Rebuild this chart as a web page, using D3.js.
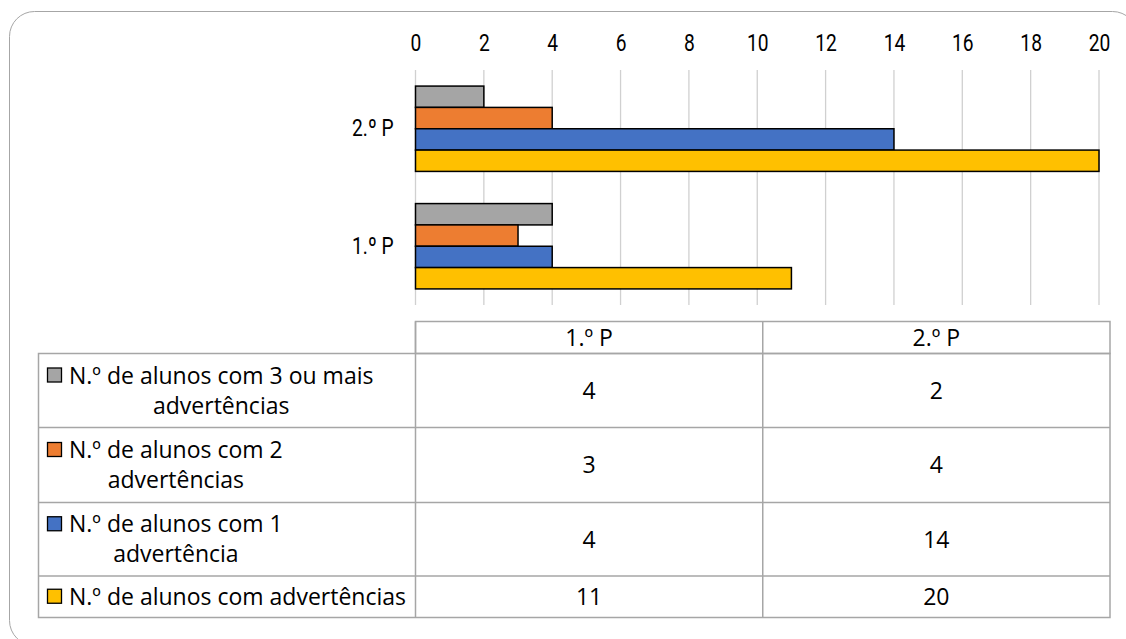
<!DOCTYPE html>
<html><head><meta charset="utf-8">
<script src="https://cdn.jsdelivr.net/npm/d3@7"></script>
<style>
html,body{margin:0;padding:0;background:#fff;}
svg{display:block;}
</style></head>
<body>
<svg id="chart" width="1126" height="639"></svg>
<script>
// ---- data ----
const categories = ["1.º P", "2.º P"];
const seriesNames = [
  "N.º de alunos com 3 ou mais advertências",
  "N.º de alunos com 2 advertências",
  "N.º de alunos com 1 advertência",
  "N.º de alunos com advertências"
];
const seriesLines = [
  ["N.º de alunos com 3 ou mais", "advertências"],
  ["N.º de alunos com 2", "advertências"],
  ["N.º de alunos com 1", "advertência"],
  ["N.º de alunos com advertências"]
];
const threeOrMore = [4, 2];
const twoWarnings = [3, 4];
const oneWarning = [4, 14];
const withWarnings = [11, 20];
const seriesColors = ["#a5a5a5", "#ed7d31", "#4472c4", "#ffc000"];
const xTicks = [0, 2, 4, 6, 8, 10, 12, 14, 16, 18, 20];

const seriesValues = [threeOrMore, twoWarnings, oneWarning, withWarnings];

// ---- layout ----
const svg = d3.select("#chart");
const plotLeft = 415.5, plotRight = 1099, plotTop = 70, plotBottom = 305;
const axisFont = "Roboto, 'Liberation Sans', sans-serif";
const narrow = 0.8;
const axisSize = 24;
const tableFont = "'Open Sans', sans-serif";
const tableSize = 23;

// frame
svg.append("rect")
  .attr("x", 9.5).attr("y", 11.5).attr("width", 1128).attr("height", 634)
  .attr("rx", 25).attr("ry", 25)
  .attr("fill", "#fff").attr("stroke", "#a6a6a6").attr("stroke-width", 1);

const x = d3.scaleLinear().domain([0, 20]).range([plotLeft, plotRight]);
const y = d3.scaleBand().domain(categories.slice().reverse()).range([plotTop, plotBottom]).padding(0);
const ySub = d3.scaleBand().domain(d3.range(seriesNames.length)).range([0, y.bandwidth()]).paddingOuter(0.754).paddingInner(0);

// gridlines
svg.append("g").selectAll("line").data(xTicks).join("line")
  .attr("x1", d => x(d)).attr("x2", d => x(d))
  .attr("y1", plotTop).attr("y2", plotBottom)
  .attr("stroke", "#d0d0d0").attr("stroke-width", 1.3);

// top axis labels (condensed via horizontal scale)
const xAxis = d3.axisTop(x).tickValues(xTicks).tickSize(0).tickPadding(0).tickFormat(d3.format("d"));
const gx = svg.append("g").attr("transform", `translate(0,50.5)`).call(xAxis);
gx.select(".domain").remove();
gx.selectAll("text").attr("font-family", axisFont).attr("font-size", axisSize).attr("fill", "#000")
  .attr("transform", `scale(${narrow},1)`);

// category labels
const yAxis = d3.axisLeft(y).tickSize(0).tickPadding(0);
const gy = svg.append("g").attr("transform", `translate(${plotLeft - 22},0)`).call(yAxis);
gy.select(".domain").remove();
gy.selectAll("text").attr("font-family", axisFont).attr("font-size", axisSize).attr("fill", "#000")
  .attr("x", 0).attr("transform", `scale(${narrow},1)`);

// bars
seriesValues.forEach((vals, si) => {
  svg.append("g").selectAll("rect").data(categories.map((c, i) => ({c, v: vals[i]}))).join("rect")
    .attr("x", x(0))
    .attr("y", d => y(d.c) + ySub(si))
    .attr("width", d => x(d.v) - x(0))
    .attr("height", ySub.bandwidth())
    .attr("fill", seriesColors[si])
    .attr("stroke", "#000").attr("stroke-width", 1.5);
});

// ---- data table ----
const tLeft = 38.5, tMid = 415.5, tRight = 1110;
const headerTop = 321.5;
const rowEdges = [353.5, 427.5, 502.5, 576, 617.5];
const colX = d3.scaleBand().domain(categories).range([tMid, tRight]);
const lineColor = "#a6a6a6";
const tg = svg.append("g");

tg.append("rect").attr("x", tMid).attr("y", headerTop).attr("width", tRight - tMid).attr("height", rowEdges[0] - headerTop)
  .attr("fill", "none").attr("stroke", lineColor).attr("stroke-width", 1.5);
tg.append("rect").attr("x", tLeft).attr("y", rowEdges[0]).attr("width", tRight - tLeft).attr("height", rowEdges[4] - rowEdges[0])
  .attr("fill", "none").attr("stroke", lineColor).attr("stroke-width", 1.5);
tg.selectAll("line.h").data(rowEdges.slice(1, 4)).join("line").attr("class", "h")
  .attr("x1", tLeft).attr("x2", tRight).attr("y1", d => d).attr("y2", d => d)
  .attr("stroke", lineColor).attr("stroke-width", 1.5);
tg.selectAll("line.v").data([tMid, colX(categories[1])]).join("line").attr("class", "v")
  .attr("x1", d => d).attr("x2", d => d).attr("y1", headerTop).attr("y2", rowEdges[4])
  .attr("stroke", lineColor).attr("stroke-width", 1.5);

tg.selectAll("text.hdr").data(categories).join("text").attr("class", "hdr")
  .attr("x", d => colX(d) + colX.bandwidth() / 2)
  .attr("y", (headerTop + rowEdges[0]) / 2)
  .attr("dy", "0.36em").attr("text-anchor", "middle")
  .attr("font-family", tableFont).attr("font-size", tableSize).attr("fill", "#000")
  .text(d => d);

seriesNames.forEach((name, si) => {
  const top = rowEdges[si], bottom = rowEdges[si + 1];
  const mid = (top + bottom) / 2;
  const lines = seriesLines[si];
  const lineH = 30;
  const base0 = mid - (lines.length - 1) * lineH / 2 + 8;
  const t0 = tg.append("text")
    .attr("x", 69).attr("y", base0)
    .attr("font-family", tableFont).attr("font-size", tableSize).attr("fill", "#000")
    .text(lines[0]);
  const w0 = t0.node().getComputedTextLength();
  const cx = 69 + w0 / 2;
  t0.attr("x", cx).attr("text-anchor", "middle");
  for (let k = 1; k < lines.length; k++) {
    tg.append("text").attr("x", cx).attr("y", base0 + k * lineH).attr("text-anchor", "middle")
      .attr("font-family", tableFont).attr("font-size", tableSize).attr("fill", "#000")
      .text(lines[k]);
  }
  tg.append("rect").attr("x", 47.5).attr("y", base0 - 15.5).attr("width", 14).attr("height", 14)
    .attr("fill", seriesColors[si]).attr("stroke", "#000").attr("stroke-width", 1.3);
  categories.forEach((c, ci) => {
    tg.append("text")
      .attr("x", colX(c) + colX.bandwidth() / 2)
      .attr("y", mid).attr("dy", "0.36em").attr("text-anchor", "middle")
      .attr("font-family", tableFont).attr("font-size", tableSize).attr("fill", "#000")
      .text(seriesValues[si][ci]);
  });
});
</script>
</body></html>
